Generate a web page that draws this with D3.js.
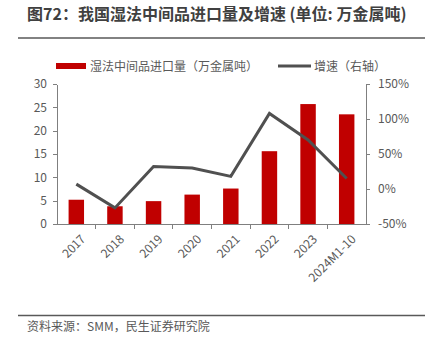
<!DOCTYPE html>
<html lang="zh">
<head>
<meta charset="UTF-8">
<title>湿法中间品进口量及增速</title>
<script src="https://d3js.org/d3.v7.min.js"></script>
<style>
  body { margin: 0; background: #fff; }
  svg text { font-family: "Noto Sans CJK SC", "Noto Sans", sans-serif; }
  .axis path, .axis line { stroke: #7f7f7f; shape-rendering: crispEdges; }
  .axis text { fill: #595959; font-size: 12px; }
</style>
</head>
<body>
<div id="app"></div>
<script>
var categories = ["2017", "2018", "2019", "2020", "2021", "2022", "2023", "2024M1-10"];
var volume = [5.2, 3.8, 4.9, 6.3, 7.6, 15.6, 25.7, 23.5];
var growth = [7, -27, 32, 30, 18, 108, 70, 15];
var leftTicks = [0, 5, 10, 15, 20, 25, 30];
var rightTicks = [-50, 0, 50, 100, 150];

var width = 430, height = 350;
var margin = { left: 57, right: 64, top: 84, bottom: 126 };

var svg = d3.select("#app").append("svg")
  .attr("width", width)
  .attr("height", height);

// 标题
svg.append("text")
  .attr("x", 27).attr("y", 20)
  .attr("font-size", 16).attr("font-weight", "bold").attr("fill", "#404040")
  .text("图72：我国湿法中间品进口量及增速 (单位: 万金属吨)");
svg.append("line")
  .attr("x1", 18).attr("x2", 425).attr("y1", 38).attr("y2", 38)
  .attr("stroke", "#595959").attr("stroke-width", 1.5);

var x = d3.scaleBand()
  .domain(categories)
  .range([margin.left, width - margin.right])
  .paddingInner(0.6).paddingOuter(0.3);
var xTick = d3.scaleLinear().domain([0, categories.length]).range([margin.left, width - margin.right]);

var yL = d3.scaleLinear().domain([0, 30]).range([height - margin.bottom, margin.top]);
var yR = d3.scaleLinear().domain([-50, 150]).range([height - margin.bottom, margin.top]);

// 柱
svg.append("g").selectAll("rect")
  .data(volume)
  .enter().append("rect")
  .attr("x", function (d, i) { return x(categories[i]); })
  .attr("y", function (d) { return yL(d); })
  .attr("width", x.bandwidth())
  .attr("height", function (d) { return yL(0) - yL(d); })
  .attr("fill", "#c00000");

// 线
var line = d3.line()
  .x(function (d, i) { return x(categories[i]) + x.bandwidth() / 2; })
  .y(function (d) { return yR(d); });
svg.append("path")
  .attr("d", line(growth))
  .attr("fill", "none")
  .attr("stroke", "#505050")
  .attr("stroke-width", 3);

// 左轴
svg.append("g").attr("class", "axis")
  .attr("transform", "translate(" + margin.left + ",0)")
  .call(d3.axisLeft(yL).tickValues(leftTicks).tickSize(4).tickSizeOuter(0).tickPadding(6));

// 右轴
svg.append("g").attr("class", "axis")
  .attr("transform", "translate(" + (width - margin.right) + ",0)")
  .call(d3.axisRight(yR).tickValues(rightTicks).tickSize(4).tickSizeOuter(0).tickPadding(8)
    .tickFormat(function (d) { return d + "%"; }));

// 横轴
var xAxis = svg.append("g").attr("class", "axis")
  .attr("transform", "translate(0," + yL(0) + ")");
xAxis.append("line")
  .attr("x1", margin.left).attr("x2", width - margin.right)
  .attr("stroke", "#7f7f7f");
xAxis.selectAll(".tk")
  .data(d3.range(1, categories.length))
  .enter().append("line")
  .attr("x1", function (d) { return xTick(d); })
  .attr("x2", function (d) { return xTick(d); })
  .attr("y1", 0).attr("y2", 5)
  .attr("stroke", "#7f7f7f");
xAxis.selectAll(".lbl")
  .data(categories)
  .enter().append("text")
  .attr("transform", function (d) {
    return "translate(" + (x(d) + x.bandwidth() / 2 + 4) + ",10) rotate(-45)";
  })
  .attr("text-anchor", "end")
  .attr("dy", "0.7em")
  .text(function (d) { return d; });

// 图例
var legend = svg.append("g").attr("font-size", 12).attr("fill", "#595959");
legend.append("rect")
  .attr("x", 56).attr("y", 63).attr("width", 30).attr("height", 6)
  .attr("fill", "#c00000");
legend.append("text").attr("x", 90).attr("y", 70.5).attr("fill", "#595959")
  .text("湿法中间品进口量（万金属吨）");
legend.append("line")
  .attr("x1", 278).attr("x2", 311).attr("y1", 66).attr("y2", 66)
  .attr("stroke", "#505050").attr("stroke-width", 3);
legend.append("text").attr("x", 314).attr("y", 70.5).attr("fill", "#595959")
  .text("增速（右轴）");

// 来源
svg.append("line")
  .attr("x1", 18).attr("x2", 425).attr("y1", 315.5).attr("y2", 315.5)
  .attr("stroke", "#595959").attr("stroke-width", 1.5);
svg.append("text")
  .attr("x", 27).attr("y", 331)
  .attr("font-size", 12).attr("fill", "#595959")
  .text("资料来源：SMM，民生证券研究院");
</script>
</body>
</html>
